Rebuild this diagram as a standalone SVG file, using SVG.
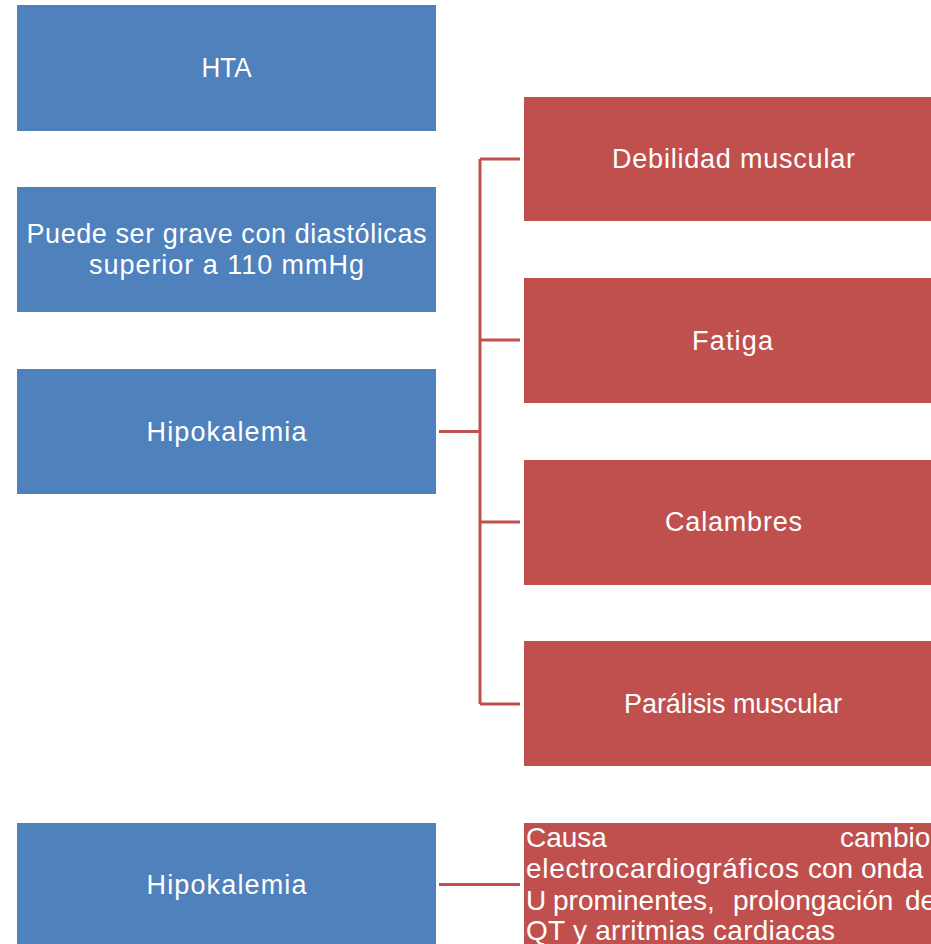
<svg xmlns="http://www.w3.org/2000/svg" width="931" height="944" viewBox="0 0 931 944">
<style>
.blue{fill:#4F81BD}
.red{fill:#C0504D}
.t{font-family:"Liberation Sans",Arial,sans-serif;font-size:27px;fill:#FFFFFF}
.b{font-size:28px}
.c{text-anchor:middle}
.conn{stroke:#C0504D;stroke-width:3;fill:none}
</style>
<rect width="931" height="944" fill="#FFFFFF"/>
<g id="n-hta"><rect class="blue" x="17" y="5" width="419" height="126"/><text class="t c" x="226.5" y="77" textLength="50" lengthAdjust="spacingAndGlyphs">HTA</text></g>
<g id="n-grave"><rect class="blue" x="17" y="187" width="419" height="125"/><text class="t c" x="226.5" y="243" textLength="400" lengthAdjust="spacing">Puede ser grave con diastólicas</text><text class="t c" x="226.5" y="274" textLength="275" lengthAdjust="spacing">superior a 110 mmHg</text></g>
<g id="n-hipo1"><rect class="blue" x="17" y="369" width="419" height="125"/><text class="t c" x="226.5" y="441" textLength="160" lengthAdjust="spacing">Hipokalemia</text></g>
<g id="n-debilidad"><rect class="red" x="524" y="97" width="419" height="124"/><text class="t c" x="733.5" y="168" textLength="243" lengthAdjust="spacing">Debilidad muscular</text></g>
<g id="n-fatiga"><rect class="red" x="524" y="278" width="419" height="125"/><text class="t c" x="732.5" y="350" textLength="81" lengthAdjust="spacing">Fatiga</text></g>
<g id="n-calambres"><rect class="red" x="524" y="460" width="419" height="125"/><text class="t c" x="733.5" y="531" textLength="137" lengthAdjust="spacing">Calambres</text></g>
<g id="n-paralisis"><rect class="red" x="524" y="641" width="419" height="125"/><text class="t c" x="733" y="713" textLength="218" lengthAdjust="spacing">Parálisis muscular</text></g>
<g id="n-hipo2"><rect class="blue" x="17" y="823" width="419" height="130"/><text class="t c" x="226.5" y="894" textLength="160" lengthAdjust="spacing">Hipokalemia</text></g>
<g id="n-causa"><rect class="red" x="524" y="823" width="419" height="130"/>
<text class="t b" x="526" y="847">Causa</text>
<text class="t b" x="840" y="847">cambio</text>
<text class="t b" x="526" y="878" textLength="273" lengthAdjust="spacing">electrocardiográficos</text>
<text class="t b" x="808" y="878">con</text>
<text class="t b" x="861" y="878">onda</text>
<text class="t b" x="526" y="910">U</text>
<text class="t b" x="553" y="910">prominentes,</text>
<text class="t b" x="733" y="910">prolongación</text>
<text class="t b" x="905" y="910">de</text>
<text class="t b" x="526" y="940" textLength="309" lengthAdjust="spacing">QT y arritmias cardiacas</text>
</g>
<g id="connectors">
<path class="conn" d="M439 431.5H480M480 159V704M480 159H520M480 340H520M480 522H520M480 704H520"/>
<path class="conn" d="M439 884.5H520"/>
</g>
</svg>
